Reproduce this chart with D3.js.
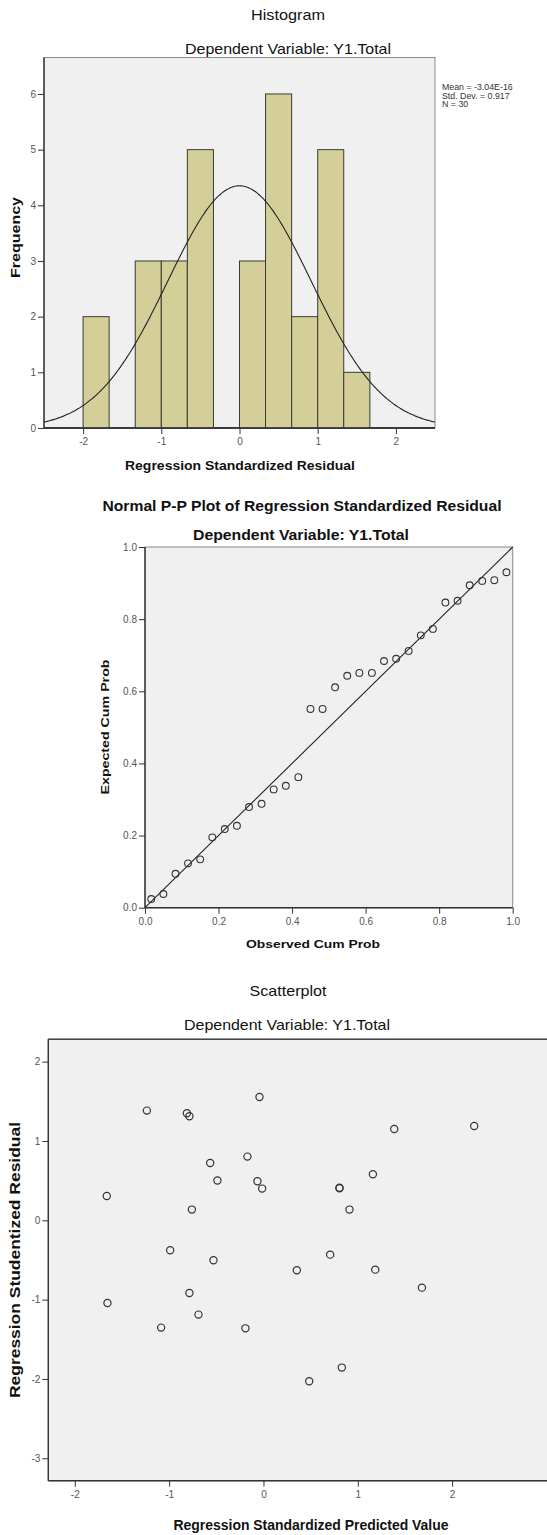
<!DOCTYPE html>
<html>
<head>
<meta charset="utf-8">
<script src="https://cdn.jsdelivr.net/npm/d3@7"></script>
<style>
  body { margin: 0; background: #fff; }
  svg { display: block; font-family: "Liberation Sans", Arial, sans-serif; }
  .tick text { fill: #555; font-size: 10px; }
  .tick line { stroke: #333; }
</style>
</head>
<body>
<div id="chart"></div>
<script>
// ---- Histogram data (standardized residuals) ----
const histBinLo = [-2.0, -1.333, -1.0, -0.667, 0.0, 0.333, 0.667, 1.0, 1.333];
const histBinHi = [-1.667, -1.0, -0.667, -0.333, 0.333, 0.667, 1.0, 1.333, 1.667];
const histCounts = [2, 3, 3, 5, 3, 6, 2, 5, 1];
const histXTicks = [-2, -1, 0, 1, 2];
const histYTicks = [0, 1, 2, 3, 4, 5, 6];
const resMean = 0;
const resSd = 0.917;
const resN = 30;
const resBinWidth = 1 / 3;
const histStats = ["Mean = -3.04E-16", "Std. Dev. = 0.917", "N = 30"];

// ---- Normal P-P plot data ----
const ppObserved = [0.017, 0.050, 0.083, 0.117, 0.150, 0.183, 0.217, 0.250, 0.283, 0.317,
                    0.350, 0.383, 0.417, 0.450, 0.483, 0.517, 0.550, 0.583, 0.617, 0.650,
                    0.683, 0.717, 0.750, 0.783, 0.817, 0.850, 0.883, 0.917, 0.950, 0.983];
const ppExpected = [0.024, 0.038, 0.094, 0.123, 0.134, 0.195, 0.218, 0.227, 0.279, 0.288,
                    0.328, 0.338, 0.362, 0.551, 0.551, 0.611, 0.643, 0.651, 0.651, 0.684,
                    0.690, 0.712, 0.755, 0.773, 0.846, 0.851, 0.894, 0.906, 0.908, 0.930];
const ppTicks = [0, 0.2, 0.4, 0.6, 0.8, 1.0];

// ---- Scatterplot data ----
const scPredicted = [-1.236, -0.812, -0.785, -0.042, 1.386, 2.234, -0.170, -0.565, -0.488, -0.064,
                     -0.014, 1.160, 0.806, 0.806, -1.661, -0.759, 0.912, -0.989, -0.530, 0.354,
                     0.707, 1.185, 1.680, -1.654, -0.785, -0.689, -1.085, -0.191, 0.831, 0.485];
const scResidual = [1.383, 1.349, 1.311, 1.555, 1.151, 1.189, 0.803, 0.723, 0.501, 0.492,
                    0.400, 0.580, 0.404, 0.410, 0.306, 0.135, 0.135, -0.378, -0.504, -0.630,
                    -0.433, -0.622, -0.849, -1.043, -0.917, -1.189, -1.353, -1.362, -1.857, -2.030];
const scXTicks = [-2, -1, 0, 1, 2];
const scYTicks = [-3, -2, -1, 0, 1, 2];

const W = 547, H = 1535;
const plotBg = "#f0f0f0";
const intFmt = d => String(d);        // plain hyphen minus like SPSS
const oneDec = d => d.toFixed(1);

const svg = d3.select("#chart").append("svg").attr("width", W).attr("height", H);

// helper for centred text, squeezed to the width seen in the picture
function label(x, y, txt, size, weight, len, rotate) {
  const t = svg.append("text")
    .attr("text-anchor", "middle")
    .attr("font-size", size)
    .attr("font-weight", weight)
    .attr("fill", "#111")
    .attr("textLength", len)
    .attr("lengthAdjust", "spacingAndGlyphs")
    .text(txt);
  if (rotate) t.attr("transform", `translate(${x},${y}) rotate(-90)`);
  else t.attr("x", x).attr("y", y);
  return t;
}

// draws background, frame and both axes for one panel
function panel(x, y, o) {
  const [x0, x1] = x.range();
  const [y0, y1] = y.range(); // y0 bottom, y1 top
  svg.append("rect").attr("x", x0).attr("y", y1).attr("width", x1 - x0).attr("height", y0 - y1)
    .attr("fill", plotBg).attr("stroke", "#8a8a8a").attr("stroke-width", 1);

  const gx = svg.append("g").attr("transform", `translate(0,${y0})`)
    .call(d3.axisBottom(x).tickValues(o.xTicks).tickSize(6).tickPadding(4).tickFormat(o.xFmt));
  const gy = svg.append("g").attr("transform", `translate(${x0},0)`)
    .call(d3.axisLeft(y).tickValues(o.yTicks).tickSize(6).tickPadding(2).tickFormat(o.yFmt));
  gx.select(".domain").attr("stroke", "#333").attr("stroke-width", 1.4);
  gy.select(".domain").attr("stroke", "#333").attr("stroke-width", 1.4);
  gx.selectAll(".domain").attr("d", `M${x0},0H${x1}`);
  gy.selectAll(".domain").attr("d", `M0,${y0}V${y1}`);
}

// ===================== Histogram =====================
const hx = d3.scaleLinear().domain([-2.5, 2.5]).range([44, 435]);
const hy = d3.scaleLinear().domain([0, 6.655]).range([428, 57.5]);

label(288, 20, "Histogram", 15, "normal", 74);
label(288, 54, "Dependent Variable: Y1.Total", 15, "normal", 206);

panel(hx, hy, { xTicks: histXTicks, yTicks: histYTicks, xFmt: intFmt, yFmt: intFmt });

const bins = histCounts.map((c, i) => ({ lo: histBinLo[i], hi: histBinHi[i], n: c }));
svg.append("g").selectAll("rect").data(bins).enter().append("rect")
  .attr("x", d => hx(d.lo))
  .attr("y", d => hy(d.n))
  .attr("width", d => hx(d.hi) - hx(d.lo))
  .attr("height", d => hy(0) - hy(d.n))
  .attr("fill", "#d4cf98")
  .attr("stroke", "#3b3b30")
  .attr("stroke-width", 1);

// fitted normal curve from mean / sd / N shown in the legend
const curvePts = d3.range(-2.5, 2.5001, 0.02).map(v => {
  const z = (v - resMean) / resSd;
  return [v, resN * resBinWidth * Math.exp(-0.5 * z * z) / (resSd * Math.sqrt(2 * Math.PI))];
});
svg.append("path").datum(curvePts)
  .attr("d", d3.line().x(d => hx(d[0])).y(d => hy(d[1])).curve(d3.curveBasis))
  .attr("fill", "none").attr("stroke", "#222").attr("stroke-width", 1.1);

// redraw axis line over the bars
svg.append("line").attr("x1", 44).attr("x2", 435).attr("y1", 428).attr("y2", 428).attr("stroke", "#333").attr("stroke-width", 1.4);

svg.append("g").selectAll("text").data(histStats).enter().append("text")
  .attr("x", 442).attr("y", (d, i) => 90 + i * 8.6)
  .attr("font-size", 8.8).attr("fill", "#333")
  .text(d => d);

label(240, 470, "Regression Standardized Residual", 13, "bold", 230);
label(19.5, 237.5, "Frequency", 13, "bold", 81, true);

// ===================== Normal P-P plot =====================
const px = d3.scaleLinear().domain([0, 1]).range([145, 512.7]);
const py = d3.scaleLinear().domain([0, 1]).range([907.7, 547]);

label(302, 510.5, "Normal P-P Plot of Regression Standardized Residual", 14, "bold", 399);
label(301, 540, "Dependent Variable: Y1.Total", 14, "bold", 216);

panel(px, py, { xTicks: ppTicks, yTicks: ppTicks, xFmt: oneDec, yFmt: oneDec });

svg.append("line")
  .attr("x1", px(0)).attr("y1", py(0)).attr("x2", px(1)).attr("y2", py(1))
  .attr("stroke", "#222").attr("stroke-width", 1.1);

const ppData = ppObserved.map((o, i) => ({ o: o, e: ppExpected[i] }));
svg.append("g").selectAll("circle").data(ppData).enter().append("circle")
  .attr("cx", d => px(d.o)).attr("cy", d => py(d.e)).attr("r", 3.4)
  .attr("fill", "none").attr("stroke", "#333").attr("stroke-width", 1.1);

label(313, 948, "Observed Cum Prob", 11, "bold", 134);
label(109, 727, "Expected Cum Prob", 11, "bold", 135, true);

// ===================== Scatterplot =====================
const sx = d3.scaleLinear().domain([-2.281, 3.15]).range([48.3, 560.6]);
const sy = d3.scaleLinear().domain([-3.283, 2.282]).range([1480.7, 1039.3]);

label(288, 996, "Scatterplot", 15, "normal", 77);
label(287, 1030, "Dependent Variable: Y1.Total", 15, "normal", 206);

panel(sx, sy, { xTicks: scXTicks, yTicks: scYTicks, xFmt: intFmt, yFmt: intFmt });
svg.append("line").attr("x1", 48.3).attr("x2", 547).attr("y1", 1039.3).attr("y2", 1039.3)
  .attr("stroke", "#444").attr("stroke-width", 1.4);

const scData = scPredicted.map((p, i) => ({ p: p, r: scResidual[i] }));
svg.append("g").selectAll("circle").data(scData).enter().append("circle")
  .attr("cx", d => sx(d.p)).attr("cy", d => sy(d.r)).attr("r", 3.6)
  .attr("fill", "none").attr("stroke", "#333").attr("stroke-width", 1.2);

label(311, 1530, "Regression Standardized Predicted Value", 14, "bold", 275);
label(19.5, 1260, "Regression Studentized Residual", 14, "bold", 276, true);
</script>
</body>
</html>
